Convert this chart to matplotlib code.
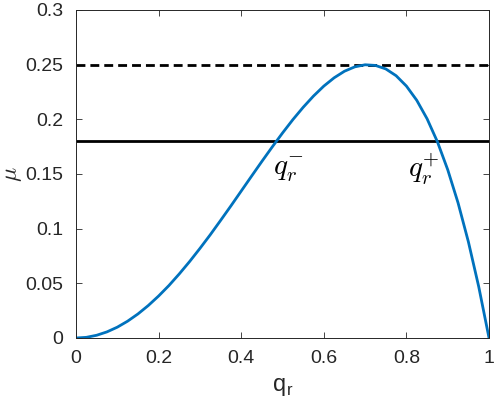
import numpy as np
import matplotlib
matplotlib.use("Agg")
import matplotlib.pyplot as plt

plt.rcParams['font.family'] = ['Liberation Sans', 'DejaVu Sans']
plt.rcParams['mathtext.fontset'] = 'cm'

# Courbe
q_r = [0.0, 0.025, 0.05, 0.075, 0.1, 0.125, 0.15, 0.175, 0.2, 0.225, 0.25,
       0.275, 0.3, 0.325, 0.35, 0.375, 0.4, 0.425, 0.45, 0.475, 0.5, 0.525,
       0.55, 0.575, 0.6, 0.625, 0.65, 0.675, 0.7, 0.725, 0.75, 0.775, 0.8,
       0.825, 0.85, 0.875, 0.9, 0.925, 0.95, 0.975, 1.0]
mu = [0.0, 0.0006, 0.0025, 0.0056, 0.0099, 0.0154, 0.022, 0.0297, 0.0384,
      0.048, 0.0586, 0.0699, 0.0819, 0.0944, 0.1075, 0.1208, 0.1344, 0.148,
      0.1615, 0.1747, 0.1875, 0.1997, 0.211, 0.2213, 0.2304, 0.238, 0.244,
      0.248, 0.2499, 0.2493, 0.2461, 0.2399, 0.2304, 0.2174, 0.2005, 0.1795,
      0.1539, 0.1236, 0.088, 0.047, 0.0]

mu_max = 0.25
mu_seuil = 0.18

x_ticks = [0, 0.2, 0.4, 0.6, 0.8, 1]
x_ticklabels = ['0', '0.2', '0.4', '0.6', '0.8', '1']
y_ticks = [0, 0.05, 0.1, 0.15, 0.2, 0.25, 0.3]
y_ticklabels = ['0', '0.05', '0.1', '0.15', '0.2', '0.25', '0.3']

fig = plt.figure(figsize=(4.98, 4.13), dpi=100)
ax = fig.add_axes([0.1526, 0.1816, 0.8294, 0.7942])

ax.axhline(mu_max, color='black', lw=2, ls=(0, (3.2, 1.8)))
ax.axhline(mu_seuil, color='black', lw=2)
ax.plot(q_r, mu, color='#0072BD', lw=2, solid_joinstyle='round')

ax.text(0.477, 0.154, r'$q_r^{-}$', fontsize=21, ha='left', va='center')
ax.text(0.804, 0.154, r'$q_r^{+}$', fontsize=21, ha='left', va='center')

ax.set_xlim(0, 1)
ax.set_ylim(0, 0.3)
ax.set_xticks(x_ticks)
ax.set_xticklabels(x_ticklabels)
ax.set_yticks(y_ticks)
ax.set_yticklabels(y_ticklabels)
ax.tick_params(direction='in', top=True, right=True, labelsize=14,
               length=4, width=0.6, color='#262626', labelcolor='#262626')
ax.tick_params(axis='x', pad=9)
ax.tick_params(axis='y', pad=9)
for s in ax.spines.values():
    s.set_color('#262626')
    s.set_linewidth(0.7)

ax.set_xlabel(r'q$_\mathregular{r}$', fontsize=17, color='#262626', labelpad=6)
ax.set_ylabel(r'$\mu$', fontsize=17, color='#262626', labelpad=1)

fig.savefig('out.png', dpi=100)
